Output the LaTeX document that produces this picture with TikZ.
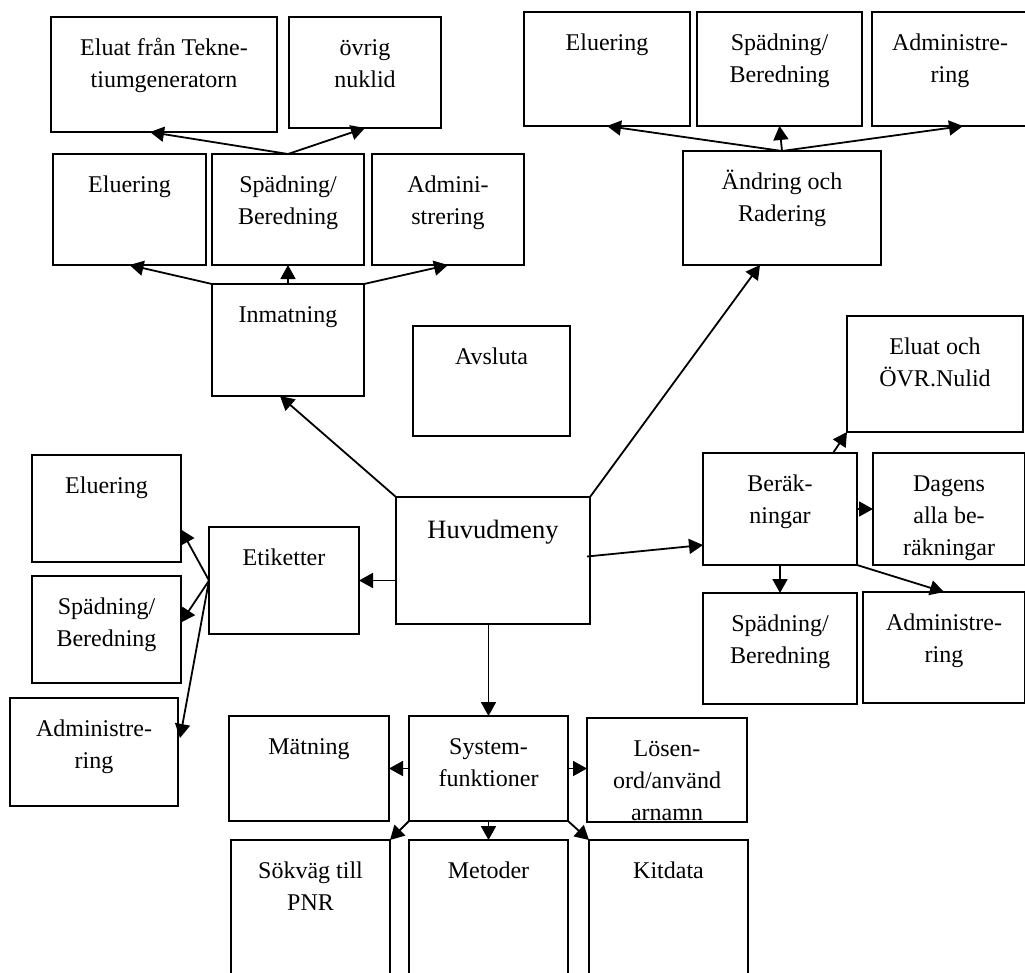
\documentclass[tikz,border=0pt]{standalone}
\usepackage{fontspec}
\setmainfont{Liberation Serif}
\usetikzlibrary{arrows.meta,calc}

\tikzset{
  box/.style={draw, line width=1.6pt, inner sep=0pt, outer sep=0pt},
  lbl/.style={anchor=north, yshift=-15.6pt, inner sep=0pt, align=center,
    font=\fontsize{24}{32}\selectfont},
  titel/.style={anchor=north, yshift=-19pt, inner sep=0pt, align=center,
    font=\fontsize{26.5}{32}\selectfont},
  pil/.style={line width=1.8pt, -{Triangle[length=14pt,width=15pt]}},
}

\begin{document}
\begin{tikzpicture}[x=1pt,y=-1pt]
  \clip (0,0) rectangle (1025,972);

  % huvudmeny
  \node[box, minimum width=194, minimum height=127, label={[titel]north:{\strut Huvudmeny}}] (huvud) at (493,560.5) {};
  \node[box, minimum width=157, minimum height=110, label={[lbl]north:{\strut Avsluta}}] (avsl) at (491.5,381) {};

  % inmatning
  \node[box, minimum width=152, minimum height=112, label={[lbl]north:{\strut Inmatning}}] (inmat) at (288,340) {};
  \node[box, minimum width=153, minimum height=111, label={[lbl]north:{\strut Eluering}}] (inElu) at (129.5,209.5) {};
  \node[box, minimum width=152, minimum height=111, label={[lbl]north:{\strut Spädning/\\Beredning}}] (inSpad) at (288,209.5) {};
  \node[box, minimum width=152, minimum height=111, label={[lbl]north:{\strut Admini-\\strering}}] (inAdm) at (448,209.5) {};
  \node[box, minimum width=226, minimum height=115, label={[lbl]north:{\strut Eluat från Tekne-\\tiumgeneratorn}}] (eluat) at (164,74.5) {};
  \node[box, minimum width=152, minimum height=111, label={[lbl]north:{\strut övrig\\nuklid}}] (ovrig) at (365,72.5) {};

  % andring
  \node[box, minimum width=198, minimum height=114, label={[lbl]north:{\strut Ändring och\\Radering}}] (andr) at (782,208) {};
  \node[box, minimum width=166, minimum height=114, label={[lbl]north:{\strut Eluering}}] (anElu) at (607,69) {};
  \node[box, minimum width=165, minimum height=114, label={[lbl]north:{\strut Spädning/\\Beredning}}] (anSpad) at (779.5,69) {};
  \node[box, minimum width=156, minimum height=114, label={[lbl]north:{\strut Administre-\\ring}}] (anAdm) at (950,69) {};

  % berakningar
  \node[box, minimum width=154, minimum height=112, label={[lbl]north:{\strut Beräk-\\ningar}}] (berak) at (780,509) {};
  \node[box, minimum width=176, minimum height=116, label={[lbl]north:{\strut Eluat och\\ÖVR.Nulid}}] (eluOvr) at (935,374) {};
  \node[box, minimum width=152, minimum height=112, label={[lbl]north:{\strut Dagens\\alla be-\\räkningar}}] (dagens) at (949,509) {};
  \node[box, minimum width=154, minimum height=111, label={[lbl]north:{\strut Spädning/\\Beredning}}] (bSpad) at (780,648.5) {};
  \node[box, minimum width=162, minimum height=111, label={[lbl]north:{\strut Administre-\\ring}}] (bAdm) at (944,647.5) {};

  % etiketter
  \node[box, minimum width=150, minimum height=107, label={[lbl]north:{\strut Etiketter}}] (etik) at (284,580.5) {};
  \node[box, minimum width=149, minimum height=107, label={[lbl]north:{\strut Eluering}}] (etElu) at (106.5,508.5) {};
  \node[box, minimum width=149, minimum height=107, label={[lbl]north:{\strut Spädning/\\Beredning}}] (etSpad) at (106.5,629.5) {};
  \node[box, minimum width=168, minimum height=108, label={[lbl]north:{\strut Administre-\\ring}}] (etAdm) at (94,752) {};

  % systemfunktioner
  \node[box, minimum width=159, minimum height=105, label={[lbl]north:{\strut System-\\funktioner}}] (sysf) at (488.5,768.5) {};
  \node[box, minimum width=160, minimum height=105, label={[lbl]north:{\strut Mätning}}] (matn) at (309,768.5) {};
  \node[box, minimum width=160, minimum height=104, label={[lbl]north:{\strut Lösen-\\ord/använd\\arnamn}}] (losen) at (667,770) {};
  \node[box, minimum width=159, minimum height=145, label={[lbl]north:{\strut Sökväg till\\PNR}}] (sokv) at (310.5,912.5) {};
  \node[box, minimum width=159, minimum height=145, label={[lbl]north:{\strut Metoder}}] (metod) at (488.5,912.5) {};
  \node[box, minimum width=159, minimum height=145, label={[lbl]north:{\strut Kitdata}}] (kit) at (668.5,912.5) {};

  % pilar
  \draw[pil] (inSpad.north) -- ($(eluat.south)+(-14,0)$);
  \draw[pil] (inSpad.north) -- (ovrig.south);
  \draw[pil] (inmat.north west) -- (inElu.south);
  \draw[pil] (inmat.north) -- (inSpad.south);
  \draw[pil] (inmat.north east) -- (inAdm.south);
  \draw[pil] (huvud.north west) -- ($(inmat.south)+(-8,0)$);
  \draw[pil] (huvud.north east) -- ($(andr.south)+(-22,0)$);
  \draw[pil] (andr.north) -- (anElu.south);
  \draw[pil] (andr.north) -- (anSpad.south);
  \draw[pil] (andr.north) -- ($(anAdm.south)+(13,0)$);
  \draw[pil] (huvud.west |- etik.east) -- (etik.east);
  \draw[pil] (etik.west) -- ($(etElu.east)+(0,21)$);
  \draw[pil] (etik.west) -- ($(etSpad.east)+(0,-7)$);
  \draw[pil] (etik.west) -- ($(etAdm.east)+(2,-14)$);
  \draw[pil] (sysf.north |- huvud.south) -- (sysf.north);
  \draw[pil] ($(huvud.east)+(-3,-4)$) -- ($(berak.west)+(0,36)$);
  \draw[pil] ($(berak.north)+(53,0)$) -- (eluOvr.south west);
  \draw[pil] (berak.east) -- (dagens.west);
  \draw[pil] (berak.south) -- (bSpad.north);
  \draw[pil] (berak.south east) -- (bAdm.north);
  \draw[pil] (sysf.west) -- (matn.east);
  \draw[pil] (sysf.east) -- (losen.west |- sysf.east);
  \draw[pil] (sysf.south west) -- (sokv.north east);
  \draw[pil] (sysf.south) -- (metod.north);
  \draw[pil] (sysf.south east) -- (kit.north west);
\end{tikzpicture}
\end{document}
